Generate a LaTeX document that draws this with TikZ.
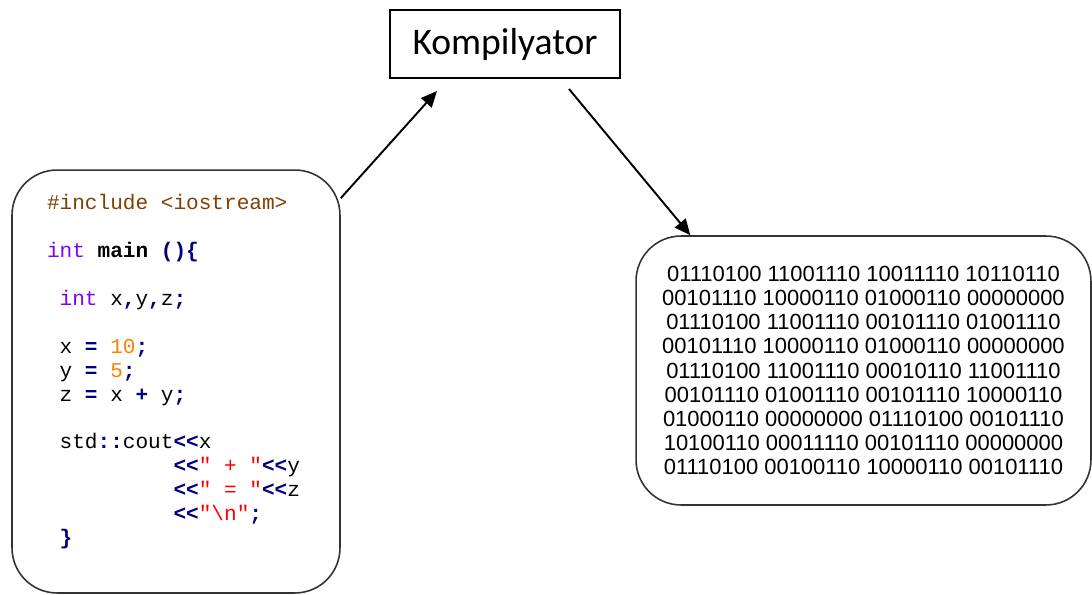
\documentclass[tikz,border=0pt]{standalone}
\usepackage{fontspec}
\usetikzlibrary{arrows.meta}
\setmainfont{Carlito}
\setmonofont{Liberation Mono}
\newfontfamily\binfont{Liberation Sans}

\definecolor{inclcol}{HTML}{804000}
\definecolor{kwcol}{HTML}{8000FF}
\definecolor{opcol}{HTML}{000080}
\definecolor{numcol}{HTML}{FF8000}
\definecolor{strcol}{HTML}{FF0000}
\newcommand{\opc}[1]{\textcolor{opcol}{\bfseries #1}}
\newcommand{\kwc}[1]{\textcolor{kwcol}{#1}}
\newcommand{\numc}[1]{\textcolor{numcol}{#1}}
\newcommand{\strc}[1]{\textcolor{strcol}{#1}}

\tikzstyle{compiler} = [rectangle, minimum width=4.6cm, minimum height=1.36cm, text centered, draw=black, line width=0.9pt, font=\fontsize{21.4}{24}\selectfont]
\tikzstyle{codebox} = [rectangle, rounded corners=0.9cm, minimum width=6.56cm, minimum height=8.46cm, text width=5.16cm, inner xsep=0.7cm, align=left, draw=black!80, line width=0.9pt, font=\ttfamily\fontsize{12}{13.6}\selectfont]
\tikzstyle{binbox} = [rectangle, rounded corners=0.9cm, minimum width=9.1cm, minimum height=5.38cm, align=center, draw=black!80, line width=0.9pt, font=\binfont\fontsize{12.5}{13.7}\selectfont]
\tikzstyle{arrow} = [-{Stealth[length=3.2mm,width=2.8mm,inset=0pt]}, line width=1.1pt]

\begin{document}
\begin{tikzpicture}[x=0.02cm, y=-0.02cm]
	\useasboundingbox (0,0) rectangle (1092,595);
	\node (comp) [compiler] at (505,44) {Kompilyator};
	\node (code) [codebox] at (176,381.5) {%
		\spaceskip=0.6em\rightskip=-1cm plus 1fil\relax
		\textcolor{inclcol}{\#include <iostream>}\\
		\mbox{}\\
		\kwc{int} \textbf{main} \opc{()\{}\\
		\mbox{}\\
		\hspace*{0.6em}\kwc{int} x\opc{,}y\opc{,}z\opc{;}\\
		\mbox{}\\
		\hspace*{0.6em}x \opc{=} \numc{10}\opc{;}\\
		\hspace*{0.6em}y \opc{=} \numc{5}\opc{;}\\
		\hspace*{0.6em}z \opc{=} x \opc{+} y\opc{;}\\
		\mbox{}\\
		\hspace*{0.6em}std\opc{::}cout\opc{<<}x\\
		\hspace*{6em}\opc{<<}\strc{" + "}\opc{<<}y\\
		\hspace*{6em}\opc{<<}\strc{" = "}\opc{<<}z\\
		\hspace*{6em}\opc{<<}\strc{"\textbackslash n"}\opc{;}\\
		\hspace*{0.6em}\opc{\}}\\
		\mbox{}};
	\node (bin) [binbox] at (863.5,370.5) {%
		01110100 11001110 10011110 10110110\\
		00101110 10000110 01000110 00000000\\
		01110100 11001110 00101110 01001110\\
		00101110 10000110 01000110 00000000\\
		01110100 11001110 00010110 11001110\\
		00101110 01001110 00101110 10000110\\
		01000110 00000000 01110100 00101110\\
		10100110 00011110 00101110 00000000\\
		01110100 00100110 10000110 00101110};

	\coordinate (toComp) at (437,91);
	\coordinate (fromComp) at (569,89);
	\draw [arrow] (code) -- (toComp);
	\draw [arrow] (fromComp) -- (bin.142);
\end{tikzpicture}
\end{document}
